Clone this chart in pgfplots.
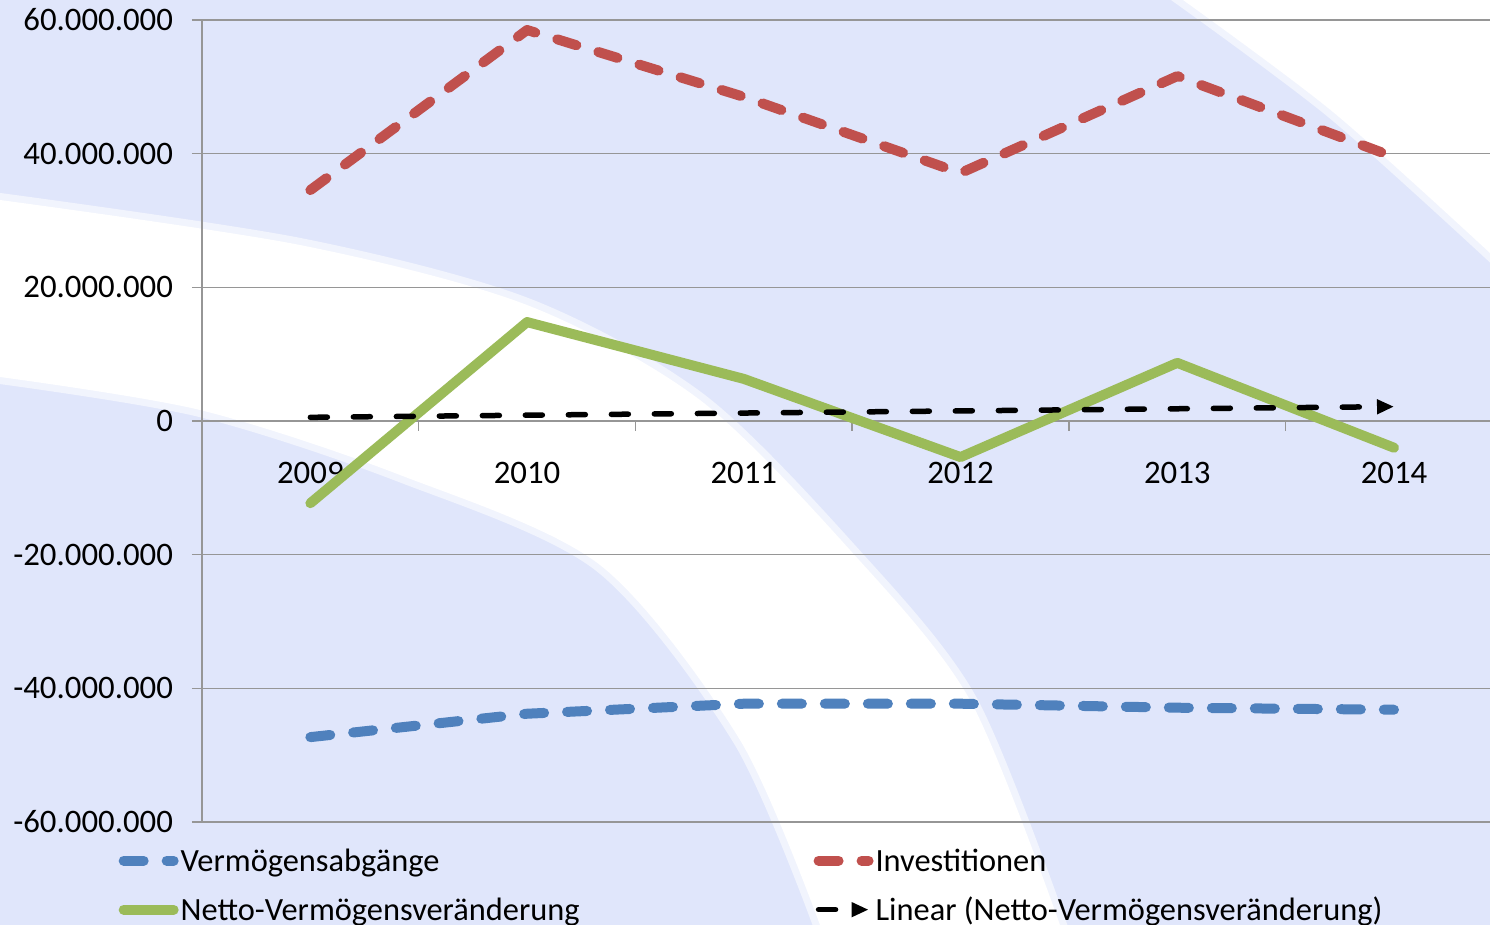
\documentclass[border=0pt]{standalone}
\usepackage{fontspec}
\setmainfont{Carlito}
\usepackage{pgfplots}
\pgfplotsset{compat=1.18}
\usetikzlibrary{arrows.meta}

\definecolor{bg}{RGB}{224,230,251}
\definecolor{inv}{RGB}{192,80,77}
\definecolor{abg}{RGB}{79,129,189}
\definecolor{net}{RGB}{155,187,89}
\definecolor{gridc}{RGB}{150,150,150}
\newcommand\cf{\fontsize{16.4}{19.7}\selectfont}
\newcommand\lf{\fontsize{16.2}{19.5}\selectfont}

\begin{document}
\begin{tikzpicture}
% background (pixel units, origin top left)
\begin{scope}[x=0.5pt,y=-0.5pt]
  \fill[bg] (0,0) rectangle (1490,925);
  \def\band{plot[smooth] coordinates {(0,200) (300,245) (527,305) (700,400) (850,550) (970,700) (1060,925)}
    -- plot[smooth] coordinates {(820,925) (740,740) (600,565) (400,475) (200,410) (0,377)} -- cycle}
  \filldraw[draw=bg!45!white, line width=7pt, fill=white] \band;
  \fill[white] \band;
  \filldraw[draw=bg!45!white, line width=7pt, fill=white] plot[smooth] coordinates {(1183,0) (1333,112) (1490,253)} -- (1490,0) -- cycle;
  \fill[white] plot[smooth] coordinates {(1183,0) (1333,112) (1490,253)} -- (1490,0) -- cycle;
\end{scope}

\begin{axis}[
    at={(101pt,-411pt)}, anchor=south west,
    scale only axis,
    width=644pt, height=401pt,
    xmin=-0.5, xmax=5.443,
    ymin=-60000000, ymax=60000000,
    scaled y ticks=false,
    axis x line*=middle, axis y line*=left,
    axis line style={gridc, line width=0.75pt},
    xtick={0,1,2,3,4,5},
    xticklabels={2009,2010,2011,2012,2013,2014},
    minor x tick num=1,
    major x tick style={draw=none},
    ytick={-60000000,-40000000,-20000000,0,20000000,40000000,60000000},
    yticklabels={-60.000.000,-40.000.000,-20.000.000,0,20.000.000,40.000.000,60.000.000},
    tick align=outside,
    major tick length=5pt, minor tick length=5pt,
    tick style={gridc, line width=0.75pt},
    ymajorgrids=true,
    grid style={gridc, line width=0.75pt},
    tick label style={font=\cf, text=black},
    yticklabel style={anchor=east, xshift=-6pt},
    xticklabel style={anchor=north, yshift=-12pt},
    legend columns=2,
    legend cell align=left,
    legend image code/.code={\draw[#1] (2.5pt,0pt) -- (27.5pt,0pt);},
    legend style={
        at={(axis description cs:-0.065,-0.029)}, anchor=north west,
        draw=none, fill=none, font=\lf, inner sep=0pt,
        nodes={inner xsep=1pt, inner ysep=0pt, text height=13pt, text depth=2pt},
        row sep=9.5pt,
        /tikz/every odd column/.append style={column sep=0pt},
        /tikz/every even column/.append style={column sep=116pt}
    },
]

\addplot[abg, line width=5pt, line cap=round, line join=round, dash pattern=on 10pt off 11.5pt]
coordinates {(0,-47300000) (1,-43800000) (2,-42300000) (3,-42300000) (4,-42900000) (5,-43200000)};
\addlegendentry{Vermögensabgänge}

\addplot[inv, line width=5pt, line cap=round, line join=round, dash pattern=on 10pt off 11.5pt]
coordinates {(0,34550000) (1,58500000) (2,48500000) (3,37100000) (4,51600000) (5,39500000)};
\addlegendentry{Investitionen}

\addplot[net, line width=5pt, line cap=round, line join=round]
coordinates {(0,-12300000) (1,14800000) (2,6300000) (3,-5400000) (4,8700000) (5,-4000000)};
\addlegendentry{Netto-Vermögensveränderung}

\addplot[black, line width=2.75pt, line cap=round, dash pattern=on 8.5pt off 13pt, -{Triangle[length=8.5pt,width=7pt]}]
coordinates {(0,550000) (5,2150000)};
\addlegendentry{Linear (Netto-Vermögensveränderung)}

\end{axis}
\pgfresetboundingbox
\path[use as bounding box] (0pt,0pt) rectangle (745pt,-462.5pt);
\end{tikzpicture}
\end{document}
